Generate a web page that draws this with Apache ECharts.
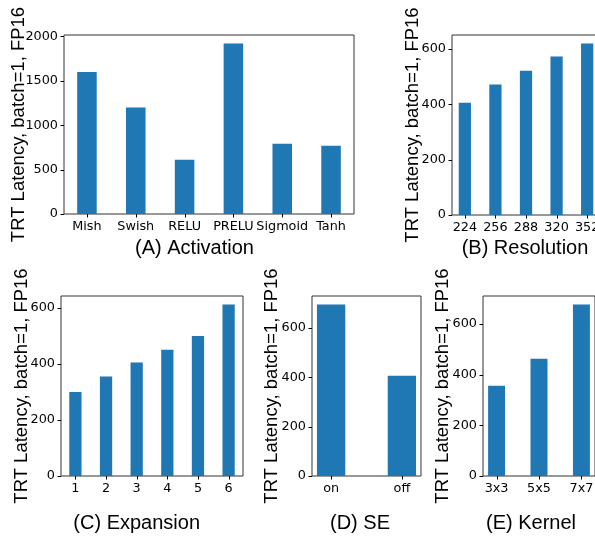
<!DOCTYPE html>
<html>
<head>
<meta charset="utf-8">
<script src="https://cdn.jsdelivr.net/npm/echarts@6/dist/echarts.min.js"></script>
<style>
html,body{margin:0;padding:0;background:#fff;}
#chart{width:595px;height:538px;}
</style>
</head>
<body>
<div id="chart"></div>
<script>
// ---- data ----
const activationCats = ['Mish', 'Swish', 'RELU', 'PRELU', 'Sigmoid', 'Tanh'];
const activationVals = [1600, 1200, 610, 1920, 790, 770];
const activationTicks = [0, 500, 1000, 1500, 2000];

const resolutionCats = ['224', '256', '288', '320', '352'];
const resolutionVals = [405, 471, 521, 572, 619];
const resolutionTicks = [0, 200, 400, 600];

const expansionCats = ['1', '2', '3', '4', '5', '6'];
const expansionVals = [300, 355, 405, 451, 500, 612];
const expansionTicks = [0, 200, 400, 600];

const seCats = ['on', 'off'];
const seVals = [695, 406];
const seTicks = [0, 200, 400, 600];

const kernelCats = ['3x3', '5x5', '7x7'];
const kernelVals = [356, 462, 676];
const kernelTicks = [0, 200, 400, 600];

const yTitle = 'TRT Latency, batch=1, FP16';
const xTitles = ['(A) Activation', '(B) Resolution', '(C) Expansion', '(D) SE', '(E) Kernel'];

// ---- layout (frames in pixels) ----
const panels = [
  {cats: activationCats, vals: activationVals, ticks: activationTicks, grid: {left: 64, top: 35, width: 290, height: 179}, ylab: [18.5, 124.5], xlab: [194.5, 248]},
  {cats: resolutionCats, vals: resolutionVals, ticks: resolutionTicks, grid: {left: 452, top: 35, width: 148, height: 180}, ylab: [413, 125], xlab: [525, 248]},
  {cats: expansionCats, vals: expansionVals, ticks: expansionTicks, grid: {left: 61, top: 296, width: 182, height: 180}, ylab: [21.5, 386], xlab: [136.7, 523]},
  {cats: seCats, vals: seVals, ticks: seTicks, grid: {left: 312, top: 296, width: 109, height: 180}, ylab: [272, 386], xlab: [360, 523]},
  {cats: kernelCats, vals: kernelVals, ticks: kernelTicks, grid: {left: 483, top: 296, width: 112, height: 180}, ylab: [442.5, 386], xlab: [531, 523]}
];

const BAR_W = 0.4;
const TICK_LEN = 3.5;
const grids = [], xAxes = [], yAxes = [], series = [], graphics = [];
const tickFont = {fontFamily: 'DejaVu Sans', fontSize: 12.8, color: '#000'};

panels.forEach((p, i) => {
  const n = p.cats.length;
  const span = (n - 1) + BAR_W;
  p.lo = -BAR_W / 2 - 0.05 * span;
  p.hi = (n - 1) + BAR_W / 2 + 0.05 * span;
  p.idx = p.cats.map((c, k) => k);
  grids.push(Object.assign({show: true, borderColor: '#333', borderWidth: 1, backgroundColor: 'transparent', containLabel: false, outerBoundsMode: 'none'}, p.grid));
  xAxes.push({
    type: 'value', gridIndex: i, min: p.lo, max: p.hi,
    axisLine: {show: false},
    axisTick: {show: false},
    axisLabel: Object.assign({customValues: p.idx, margin: 6, formatter: v => p.cats[Math.round(v)]}, tickFont),
    splitLine: {show: false}
  });
  yAxes.push({
    type: 'value', gridIndex: i, min: 0, max: Math.max(...p.vals) * 1.05,
    axisLine: {show: false},
    axisTick: {show: false},
    axisLabel: Object.assign({customValues: p.ticks, margin: 6, formatter: v => String(v)}, tickFont),
    splitLine: {show: false}
  });
  series.push({
    type: 'bar', xAxisIndex: i, yAxisIndex: i, barWidth: '40%',
    data: p.vals.map((v, k) => [k, v]),
    itemStyle: {color: '#1f77b4'}, silent: true
  });
  graphics.push({
    type: 'text', x: p.ylab[0], y: p.ylab[1], rotation: Math.PI / 2,
    style: {text: yTitle, fontFamily: 'Liberation Sans', fontSize: 18.5, fill: '#000', align: 'center', verticalAlign: 'middle'}
  });
  graphics.push({
    type: 'text', x: p.xlab[0], y: p.xlab[1],
    style: {text: xTitles[i], fontFamily: 'Liberation Sans', fontSize: 20, fill: '#000', align: 'center', verticalAlign: 'middle'}
  });
});

const chart = echarts.init(document.getElementById('chart'), null, {renderer: 'canvas'});
chart.setOption({
  animation: false,
  backgroundColor: '#fff',
  grid: grids, xAxis: xAxes, yAxis: yAxes, series: series, graphic: graphics
});

// tick marks, positioned through the library's own scales
const tickGraphics = graphics.slice();
panels.forEach((p, i) => {
  const gl = p.grid.left, gb = p.grid.top + p.grid.height;
  p.ticks.forEach(v => {
    const pt = chart.convertToPixel({gridIndex: i}, [0, v]);
    const y = Math.round(pt[1]) + 0.5;
    tickGraphics.push({type: 'line', silent: true, shape: {x1: gl - TICK_LEN, y1: y, x2: gl, y2: y}, style: {stroke: '#000', lineWidth: 1}});
  });
  p.idx.forEach(k => {
    const pt = chart.convertToPixel({gridIndex: i}, [k, 0]);
    const x = Math.round(pt[0]) + 0.5;
    tickGraphics.push({type: 'line', silent: true, shape: {x1: x, y1: gb, x2: x, y2: gb + TICK_LEN}, style: {stroke: '#000', lineWidth: 1}});
  });
});
chart.setOption({graphic: tickGraphics}, {replaceMerge: ['graphic']});
</script>
</body>
</html>
